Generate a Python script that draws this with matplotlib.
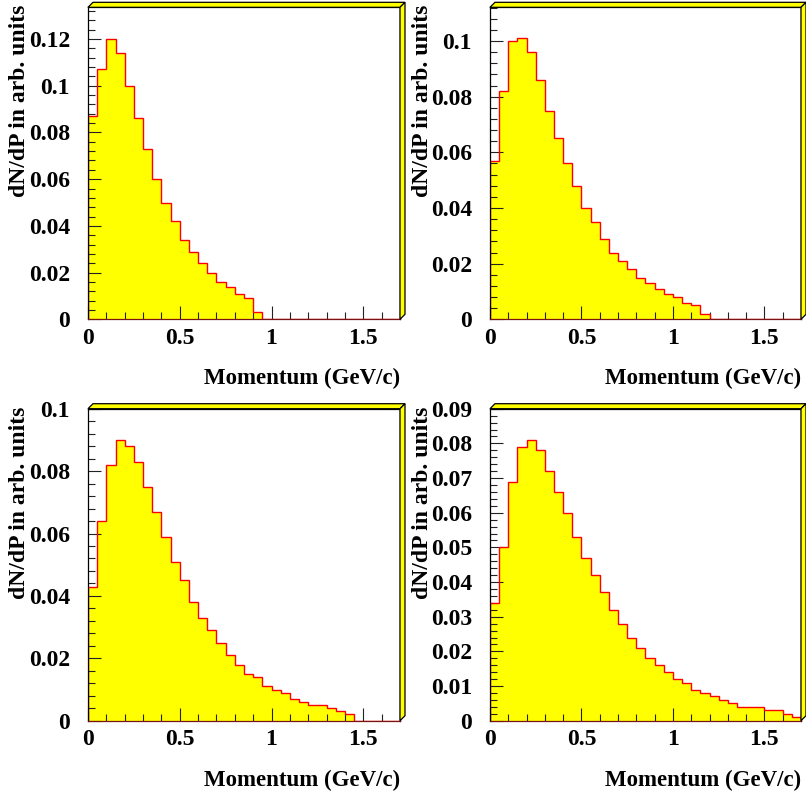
"""
plot.py

Momentum distributions (dN/dP) in four panels, drawn as filled
step histograms with a ROOT-like raised frame.
"""

import numpy as np
import matplotlib
matplotlib.use("Agg")
import matplotlib.pyplot as plt
from matplotlib.patches import Polygon
from matplotlib.ticker import MultipleLocator, FuncFormatter

# bin edges: 34 bins of 0.05 GeV/c from 0 to 1.7
edges = np.linspace(0.0, 1.7, 35)

# bin contents (top-left, top-right, bottom-left, bottom-right)
counts_tl = [0.087, 0.107, 0.120, 0.114, 0.100, 0.086, 0.073, 0.060, 0.050, 0.042,
             0.034, 0.029, 0.024, 0.020, 0.016, 0.014, 0.011, 0.009, 0.003, 0,
             0, 0, 0, 0, 0, 0, 0, 0, 0, 0, 0, 0, 0, 0]
counts_tr = [0.057, 0.082, 0.100, 0.101, 0.096, 0.086, 0.075, 0.065, 0.056, 0.048,
             0.040, 0.035, 0.029, 0.024, 0.021, 0.018, 0.015, 0.013, 0.011, 0.009,
             0.008, 0.006, 0.005, 0.002, 0, 0, 0, 0, 0, 0, 0, 0, 0, 0]
counts_bl = [0.043, 0.064, 0.082, 0.090, 0.088, 0.083, 0.075, 0.067, 0.059, 0.051,
             0.045, 0.038, 0.033, 0.029, 0.025, 0.021, 0.018, 0.015, 0.014, 0.011,
             0.010, 0.009, 0.007, 0.006, 0.005, 0.005, 0.004, 0.003, 0.002, 0,
             0, 0, 0, 0]
counts_br = [0.034, 0.050, 0.069, 0.079, 0.081, 0.078, 0.072, 0.066, 0.060, 0.053,
             0.047, 0.042, 0.037, 0.032, 0.028, 0.024, 0.021, 0.018, 0.016, 0.014,
             0.012, 0.011, 0.009, 0.008, 0.007, 0.006, 0.005, 0.004, 0.004, 0.004,
             0.003, 0.003, 0.002, 0.001]

# y range and tick step for each panel
y_max = [0.1336, 0.1121, 0.1, 0.09]
y_major = [0.02, 0.02, 0.02, 0.01]

x_title = "Momentum (GeV/c)"
y_title = "dN/dP in arb. units"

FONT = "Liberation Serif"
FS = 17
DPI = 100


def draw_panel(ax, counts, ymax, ystep):
    """Draw one histogram panel in ROOT style."""
    ax.stairs(counts, edges, fill=True, color="#ffff00", zorder=1)
    ax.stairs(counts, edges, baseline=0, color="#ff0000", lw=1.0, zorder=2)

    ax.set_xlim(0, 1.7)
    ax.set_ylim(0, ymax)

    ax.xaxis.set_major_locator(MultipleLocator(0.5))
    ax.xaxis.set_minor_locator(MultipleLocator(0.1))
    ax.yaxis.set_major_locator(MultipleLocator(ystep))
    ax.yaxis.set_minor_locator(MultipleLocator(ystep / 5))
    fmt = FuncFormatter(lambda v, pos: "%g" % round(v, 6))
    ax.xaxis.set_major_formatter(fmt)
    ax.yaxis.set_major_formatter(fmt)

    ax.tick_params(which="both", direction="in", top=False, right=False,
                   color="#222222", width=0.8)
    ax.tick_params(which="major", length=9.4)
    ax.tick_params(which="minor", length=4.7)
    ax.tick_params(axis="x", which="major", pad=6)
    ax.tick_params(axis="y", which="major", pad=13)

    for lbl in ax.get_xticklabels() + ax.get_yticklabels():
        lbl.set_fontfamily(FONT)
        lbl.set_fontweight("bold")
        lbl.set_fontsize(FS)

    for side in ["left", "top", "right"]:
        ax.spines[side].set_color("black")
        ax.spines[side].set_linewidth(0.9)
    ax.spines["bottom"].set_color("#7a1414")
    ax.spines["bottom"].set_linewidth(0.9)

    # raised 3D border on top and right of the frame
    d = 0.016
    top = Polygon([(0, 1), (d, 1 + d), (1 + d, 1 + d), (1, 1)], closed=True,
                  transform=ax.transAxes, facecolor="#ffff00", edgecolor="black",
                  lw=0.9, clip_on=False, zorder=5)
    right = Polygon([(1, 1), (1 + d, 1 + d), (1 + d, d), (1, 0)], closed=True,
                    transform=ax.transAxes, facecolor="#ffff00", edgecolor="black",
                    lw=0.9, clip_on=False, zorder=5)
    ax.add_patch(top)
    ax.add_patch(right)

    ax.text(1.0, -0.19, x_title, transform=ax.transAxes, ha="right", va="center",
            fontfamily=FONT, fontweight="bold", fontsize=FS - 0.5)
    ax.text(-0.218, 1.008, y_title, transform=ax.transAxes, rotation=90,
            ha="center", va="top", fontfamily=FONT, fontweight="bold", fontsize=FS)


def plot():
    W, H = 806, 796
    fig = plt.figure(figsize=(W / DPI, H / DPI), dpi=DPI)
    fig.patch.set_facecolor("white")

    # frame boxes in pixels: left, top, right, bottom
    boxes = [(88, 7.3, 400, 319.3), (490, 7.3, 801, 319.3),
             (88, 408.7, 400, 720.7), (490, 408.7, 801, 720.7)]
    all_counts = [counts_tl, counts_tr, counts_bl, counts_br]

    for (l, t, r, b), counts, ymax, ystep in zip(boxes, all_counts, y_max, y_major):
        ax = fig.add_axes([l / W, 1 - b / H, (r - l) / W, (b - t) / H])
        draw_panel(ax, counts, ymax, ystep)

    fig.savefig("out.png", dpi=DPI)


plot()
